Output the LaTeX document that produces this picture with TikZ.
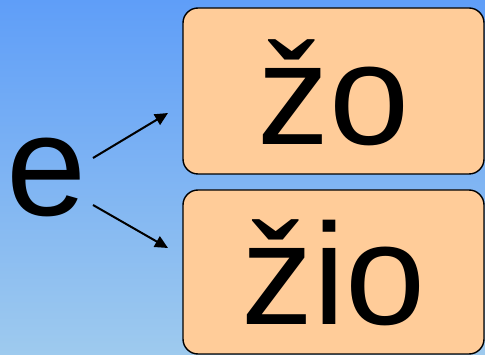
\documentclass[tikz,border=0pt]{standalone}
\usepackage{fontspec}
\setmainfont{Liberation Sans}
\usetikzlibrary{arrows.meta}
\definecolor{bgtop}{RGB}{95,158,248}
\definecolor{bgbot}{RGB}{158,202,238}
\definecolor{boxfill}{RGB}{255,204,153}
\tikzset{
    wordbox/.style={draw=black, line width=1.4pt, fill=boxfill, rounded corners=15pt},
    bigtext/.style={inner sep=0pt, anchor=base, font=\fontsize{144}{144}\selectfont},
    arr/.style={line width=2pt, -{Triangle[length=13pt,width=12pt]}}
}
\begin{document}
\begin{tikzpicture}[x=1pt,y=-1pt]
    \def\W{485}
    \def\H{355}

    \def\bxa{183}
    \def\bxb{484}

    \shade[top color=bgtop, bottom color=bgbot] (0,0) rectangle (\W,\H);
    \useasboundingbox (0,0) rectangle (\W,\H);

    \draw[wordbox] (\bxa,8) rectangle (\bxb,174);
    \draw[wordbox] (\bxa,190) rectangle (\bxb,354);

    \node[bigtext] (zo) at (333.5,145) {žo};
    \node[bigtext] (zio) at (333.5,325) {žio};
    \node[bigtext] (e) at (47,216) {e};

    \coordinate (sa) at (93,158);
    \coordinate (ta) at (168,113);
    \coordinate (sb) at (93,205);
    \coordinate (tb) at (168,248);

    \draw[arr] (sa) -- (ta);
    \draw[arr] (sb) -- (tb);
\end{tikzpicture}
\end{document}
